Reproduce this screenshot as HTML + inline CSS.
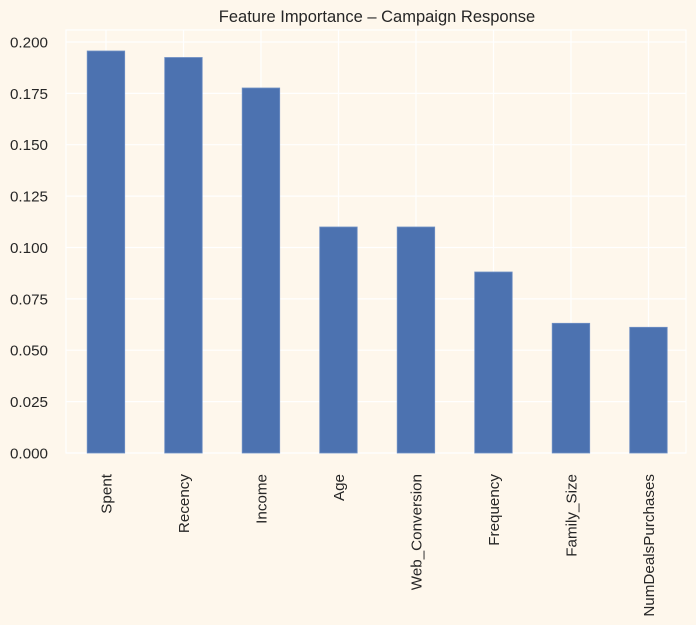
<!DOCTYPE html>
<html><head><meta charset="utf-8"><style>
html,body{margin:0;padding:0;background:#fef7ec;}
svg{display:block;font-family:"Liberation Sans",sans-serif;}
</style></head><body>
<svg width="696" height="625" viewBox="0 0 696 625">
<rect width="696" height="625" fill="#fef7ec"/>
<g stroke="#ffffff" stroke-width="1.2">
<line x1="66" x2="686" y1="453" y2="453"/>
<line x1="66" x2="686" y1="401.6" y2="401.6"/>
<line x1="66" x2="686" y1="350.2" y2="350.2"/>
<line x1="66" x2="686" y1="298.9" y2="298.9"/>
<line x1="66" x2="686" y1="247.5" y2="247.5"/>
<line x1="66" x2="686" y1="196.1" y2="196.1"/>
<line x1="66" x2="686" y1="144.7" y2="144.7"/>
<line x1="66" x2="686" y1="93.4" y2="93.4"/>
<line x1="66" x2="686" y1="42" y2="42"/>
<line x1="106" x2="106" y1="30" y2="453"/>
<line x1="183.5" x2="183.5" y1="30" y2="453"/>
<line x1="261" x2="261" y1="30" y2="453"/>
<line x1="338.5" x2="338.5" y1="30" y2="453"/>
<line x1="416" x2="416" y1="30" y2="453"/>
<line x1="493.5" x2="493.5" y1="30" y2="453"/>
<line x1="571" x2="571" y1="30" y2="453"/>
<line x1="648.5" x2="648.5" y1="30" y2="453"/>
</g>
<rect x="66" y="30" width="620" height="423" fill="none" stroke="#fff" stroke-width="1.2"/>
<g fill="#4c72b0" stroke="#6f8fc4" stroke-width="0.8">
<rect x="87.2" y="51" width="37.5" height="402"/>
<rect x="164.7" y="57.5" width="37.5" height="395.5"/>
<rect x="242.2" y="88" width="37.5" height="365"/>
<rect x="319.7" y="227" width="37.5" height="226"/>
<rect x="397.2" y="227" width="37.5" height="226"/>
<rect x="474.7" y="272" width="37.5" height="181"/>
<rect x="552.2" y="323.3" width="37.5" height="129.7"/>
<rect x="629.7" y="327.3" width="37.5" height="125.7"/>
</g>
<g fill="#262626" font-size="15.2" text-anchor="end">
<text x="48" y="458.5">0.000</text>
<text x="48" y="407.1">0.025</text>
<text x="48" y="355.7">0.050</text>
<text x="48" y="304.4">0.075</text>
<text x="48" y="253">0.100</text>
<text x="48" y="201.6">0.125</text>
<text x="48" y="150.2">0.150</text>
<text x="48" y="98.9">0.175</text>
<text x="48" y="47.5">0.200</text>
</g>
<g fill="#262626" font-size="15.2" text-anchor="end">
<text transform="translate(111.5,474) rotate(-90)">Spent</text>
<text transform="translate(189,474) rotate(-90)">Recency</text>
<text transform="translate(266.5,474) rotate(-90)">Income</text>
<text transform="translate(344,474) rotate(-90)">Age</text>
<text transform="translate(421.5,474) rotate(-90)">Web_Conversion</text>
<text transform="translate(499,474) rotate(-90)">Frequency</text>
<text transform="translate(576.5,474) rotate(-90)">Family_Size</text>
<text transform="translate(654,474) rotate(-90)">NumDealsPurchases</text>
</g>
<text x="377" y="22" font-size="16.5" fill="#262626" text-anchor="middle">Feature Importance – Campaign Response</text>
</svg>
</body></html>
